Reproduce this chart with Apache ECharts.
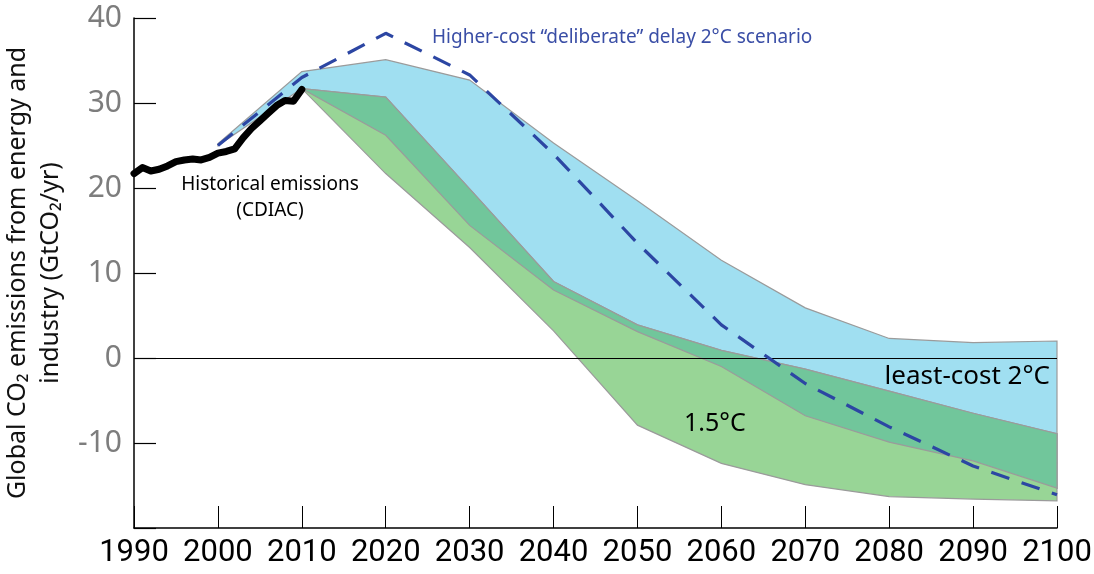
<!DOCTYPE html>
<html>
<head>
<meta charset="utf-8">
<script src="https://cdn.jsdelivr.net/npm/echarts@6/dist/echarts.min.js"></script>
<style>
  html, body { margin: 0; padding: 0; background: #fff; }
  #chart { width: 1094px; height: 574px; }
</style>
</head>
<body>
<div id="chart"></div>
<script>
// historical emissions (CDIAC), GtCO2/yr
var histYears = [1990,1991,1992,1993,1994,1995,1996,1997,1998,1999,2000,2001,2002,2003,2004,2005,2006,2007,2008,2009,2010];
var histValues = [21.7,22.4,22.0,22.2,22.6,23.1,23.3,23.4,23.3,23.6,24.1,24.3,24.6,25.9,27.0,27.9,28.8,29.7,30.3,30.2,31.6];

// least-cost 2°C range
var blueYears = [2000,2010,2020,2030,2040,2050,2060,2070,2080,2090,2100];
var blueUpper = [25.2,33.7,35.1,32.7,25.3,18.5,11.5,5.9,2.3,1.8,2.0];
var blueLower = [25.0,31.7,26.2,15.6,8.0,3.1,-1.0,-6.8,-9.9,-12.1,-15.3];

// 1.5°C range
var greenYears = [2010,2020,2030,2040,2050,2060,2070,2080,2090,2100];
var greenUpper = [31.7,30.7,19.9,9.0,3.9,0.9,-1.3,-3.9,-6.5,-8.9];
var greenLower = [31.7,21.7,13.0,3.2,-7.9,-12.4,-14.9,-16.3,-16.6,-16.8];

// higher-cost "deliberate" delay 2°C scenario
var delayYears = [2000,2010,2020,2030,2040,2050,2060,2070,2080,2090,2100];
var delayValues = [25.0,33.0,38.2,33.3,24.0,13.5,3.9,-3.0,-8.1,-12.7,-16.1];

function pairs(xs, ys) {
  return xs.map(function (x, i) { return [x, ys[i]]; });
}

function band(name, years, lower, upper, color, z) {
  var data = years.map(function (y, i) { return [y, lower[i], upper[i]]; });
  return {
    name: name,
    type: 'custom',
    z: z,
    data: data,
    encode: { x: 0, y: [1, 2] },
    silent: true,
    renderItem: function (params, api) {
      if (params.dataIndex !== 0) return;
      var top = data.map(function (d) { return api.coord([d[0], d[2]]); });
      var bot = data.map(function (d) { return api.coord([d[0], d[1]]); }).reverse();
      return {
        type: 'polygon',
        shape: { points: top.concat(bot) },
        style: { fill: color, stroke: '#9b9b9b', lineWidth: 1.2 }
      };
    }
  };
}

// overlap of both ranges: from the 2°C lower edge up to the 1.5°C upper edge
var overlapLower = greenYears.map(function (y) { return blueLower[blueYears.indexOf(y)]; });

var myChart = echarts.init(document.getElementById('chart'));
var font = '"Noto Sans", "Open Sans", sans-serif';

option = {
  animation: false,
  grid: { left: 134, right: 37, top: 18, bottom: 46, outerBoundsMode: 'none', containLabel: false },
  xAxis: {
    type: 'value',
    min: 1990,
    max: 2100,
    interval: 10,
    axisLine: { onZero: false, lineStyle: { color: '#000', width: 1.5 } },
    axisTick: { inside: true, length: 22, lineStyle: { color: '#000', width: 1 } },
    axisLabel: {
      color: '#000', fontSize: 31, margin: 10,
      fontFamily: 'Roboto, "Liberation Sans", sans-serif',
      formatter: function (v) { return String(v); }
    },
    splitLine: { show: false }
  },
  yAxis: {
    type: 'value',
    min: -20,
    max: 40,
    interval: 10,
    name: 'Global CO₂ emissions from energy and\nindustry (GtCO₂/yr)',
    nameLocation: 'middle',
    nameRotate: 90,
    nameGap: 50,
    nameTextStyle: { color: '#111', fontSize: 25, lineHeight: 33, fontFamily: font },
    axisLine: { show: true, onZero: false, lineStyle: { color: '#000', width: 1.5 } },
    axisTick: { inside: true, length: 22, lineStyle: { color: '#000', width: 1.2 } },
    axisLabel: {
      color: '#7d7d7d', fontSize: 30, margin: 12, fontFamily: font,
      formatter: function (v) { return v === -20 ? '' : String(v); }
    },
    splitLine: { show: false }
  },
  series: [
    band('least-cost 2°C', blueYears, blueLower, blueUpper, '#a0dff1', 1),
    band('1.5°C', greenYears, greenLower, greenUpper, '#98d596', 2),
    band('overlap', greenYears, overlapLower, greenUpper, '#71c69b', 3),
    {
      name: 'Higher-cost delay',
      type: 'line',
      z: 5,
      data: pairs(delayYears, delayValues),
      showSymbol: false,
      silent: true,
      lineStyle: { color: '#2c46a3', width: 3.2, type: [19, 13] },
      markLine: {
        silent: true,
        symbol: 'none',
        label: { show: false },
        lineStyle: { color: '#000', width: 1.2, type: 'solid' },
        data: [{ yAxis: 0 }]
      }
    },
    {
      name: 'Historical emissions',
      type: 'line',
      z: 6,
      data: pairs(histYears, histValues),
      showSymbol: false,
      silent: true,
      lineStyle: { color: '#000', width: 7, join: 'round', cap: 'round' }
    }
  ],
  graphic: [
    { type: 'text', left: 432, top: 28, z: 10,
      style: { text: 'Higher-cost \u201cdeliberate\u201d delay 2°C scenario', fill: '#3a4ea6', font: '19px ' + font } },
    { type: 'text', x: 270, y: 185, z: 10,
      style: { text: 'Historical emissions', fill: '#000', font: '19px ' + font, align: 'center', verticalAlign: 'middle' } },
    { type: 'text', x: 270, y: 211, z: 10,
      style: { text: '(CDIAC)', fill: '#000', font: '19px ' + font, align: 'center', verticalAlign: 'middle' } },
    { type: 'text', x: 1050, y: 377, z: 10,
      style: { text: 'least-cost 2°C', fill: '#000', font: '26px ' + font, align: 'right', verticalAlign: 'middle' } },
    { type: 'text', x: 684, y: 424, z: 10,
      style: { text: '1.5°C', fill: '#000', font: '25px ' + font, align: 'left', verticalAlign: 'middle' } }
  ]
};

myChart.setOption(option);
</script>
</body>
</html>
